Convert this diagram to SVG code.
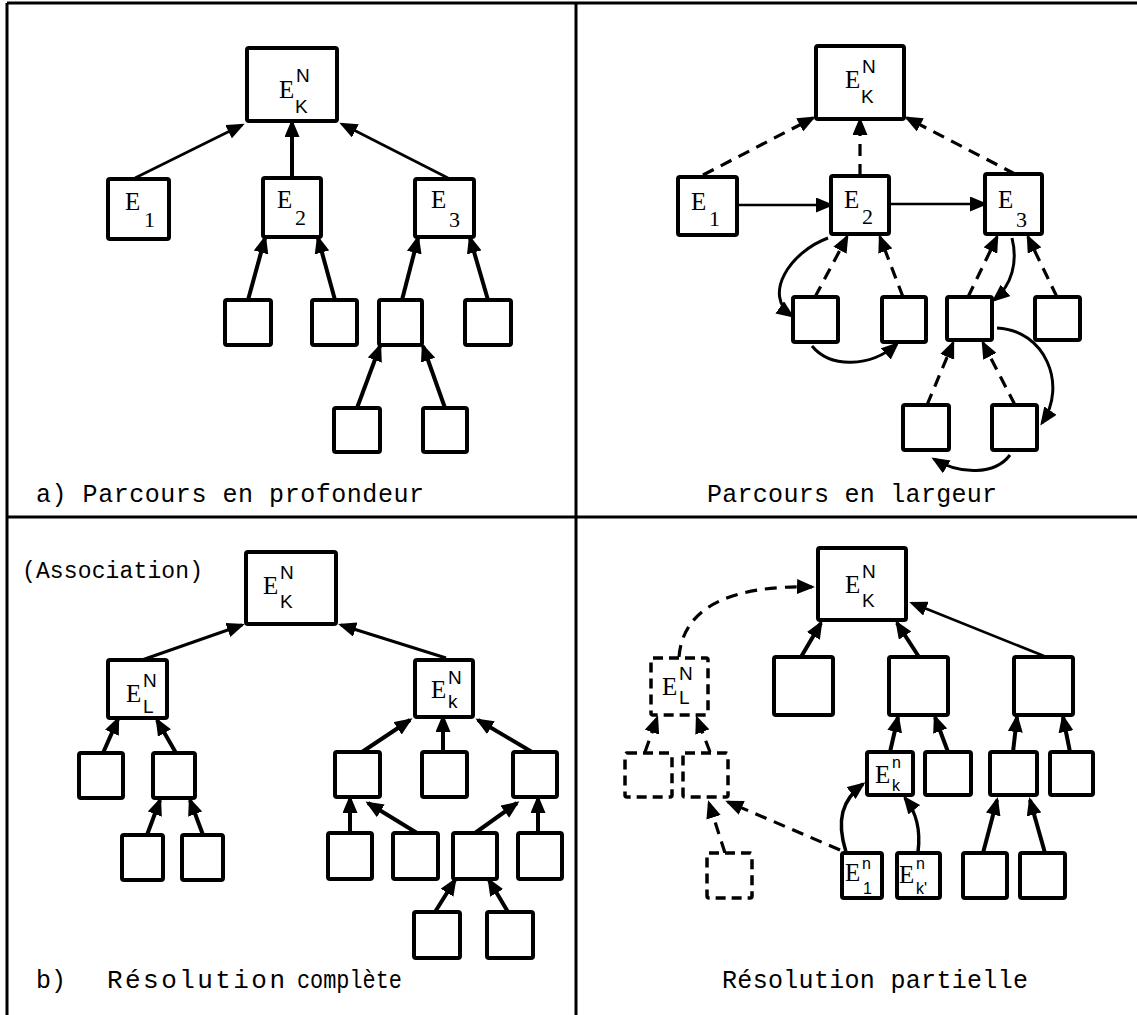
<svg xmlns="http://www.w3.org/2000/svg" width="1137" height="1015" viewBox="0 0 1137 1015">
<style>
.frame{stroke:#000;stroke-width:3;fill:none}
.box{fill:#fff;stroke:#000;stroke-width:4}
.dbox{fill:#fff;stroke:#000;stroke-width:3.5;stroke-dasharray:10 6}
.c{fill:none;stroke:#000;stroke-width:2.6;marker-end:url(#ah)}
.tk{stroke-width:4}
.ds{stroke-width:3.2;stroke-dasharray:12 8}
.lbl{font-family:"Liberation Mono",monospace;font-size:25px;fill:#000}
.e{font-family:"Liberation Serif",serif;font-size:25px;fill:#000}
.s{font-family:"Liberation Sans",sans-serif;font-size:19px;fill:#000}
.t{font-family:"Liberation Sans",sans-serif;font-size:16px;fill:#000}
.n{font-family:"Liberation Serif",serif;font-size:22px;fill:#000}
</style>
<defs>
<marker id="ah" markerUnits="userSpaceOnUse" markerWidth="18" markerHeight="15" refX="15" refY="7.5" orient="auto" viewBox="0 0 18 15"><path d="M0,0 L18,7.5 L0,15 z" fill="#000"/></marker>
</defs>
<rect width="1137" height="1015" fill="#fff"/>
<g id="frame">
<line class="frame" x1="7" y1="3" x2="1137" y2="3"/>
<line class="frame" x1="7" y1="3" x2="7" y2="1015"/>
<line class="frame" x1="576" y1="3" x2="576" y2="1015"/>
<line class="frame" x1="7" y1="517" x2="1137" y2="517"/>
</g>
<g id="captions">
<text class="lbl" x="36" y="502" textLength="388" lengthAdjust="spacing">a) Parcours en profondeur</text>
<text class="lbl" x="707" y="502" textLength="290" lengthAdjust="spacing">Parcours en largeur</text>
<text class="lbl" x="22" y="578" style="font-size:23px" textLength="181" lengthAdjust="spacing">(Association)</text>
<text class="lbl" x="36" y="988">b)</text>
<text class="lbl" x="107" y="988" style="font-size:26px" textLength="178" lengthAdjust="spacing">Résolution</text>
<text class="lbl" x="297" y="988" textLength="105" lengthAdjust="spacingAndGlyphs">complète</text>
<text class="lbl" x="722" y="988" textLength="306" lengthAdjust="spacing">Résolution partielle</text>
</g>

<g id="connectors">
<!-- a) profondeur -->
<path class="c" d="M135,178 L242,125"/>
<path class="c tk" d="M292,178 L292,122"/>
<path class="c" d="M448,178 L342,124"/>
<path class="c tk" d="M248,300 L265,238"/>
<path class="c tk" d="M335,300 L318,238"/>
<path class="c tk" d="M402,300 L418,238"/>
<path class="c tk" d="M488,300 L470,238"/>
<path class="c tk" d="M357,408 L380,346"/>
<path class="c tk" d="M445,408 L423,346"/>
<!-- largeur -->
<path class="c ds" d="M703,175 L813,118"/>
<path class="c ds" d="M860,176 L860,120"/>
<path class="c ds" d="M1015,174 L907,118"/>
<path class="c" d="M737,205 L831,205"/>
<path class="c" d="M889,204 L985,204"/>
<path class="c ds" d="M815,297 L847,237"/>
<path class="c ds" d="M903,297 L880,237"/>
<path class="c ds" d="M968,297 L997,237"/>
<path class="c ds" d="M1057,297 L1028,237"/>
<path class="c ds" d="M927,405 L953,343"/>
<path class="c ds" d="M1015,405 L983,343"/>
<path class="c" style="stroke-width:3" d="M828,238 C790,252 762,295 792,316"/>
<path class="c" style="stroke-width:3" d="M812,346 C830,368 870,368 897,344"/>
<path class="c" style="stroke-width:3" d="M1012,238 C1018,262 1012,285 994,300"/>
<path class="c" style="stroke-width:3" d="M997,328 C1045,330 1068,385 1042,423"/>
<path class="c" style="stroke-width:3" d="M1010,455 C995,475 960,475 934,459"/>
<!-- b) complete -->
<path class="c" style="stroke-width:3" d="M142,660 L242,625"/>
<path class="c" style="stroke-width:3" d="M446,658 L341,625"/>
<path class="c tk" d="M103,753 L118,719"/>
<path class="c tk" d="M176,753 L157,720"/>
<path class="c tk" d="M147,835 L160,800"/>
<path class="c tk" d="M203,835 L190,800"/>
<path class="c tk" d="M362,752 L410,720"/>
<path class="c tk" d="M443,752 L443,717"/>
<path class="c tk" d="M532,752 L478,720"/>
<path class="c tk" d="M350,833 L350,798"/>
<path class="c tk" d="M417,833 L368,803"/>
<path class="c tk" d="M475,833 L517,803"/>
<path class="c tk" d="M538,833 L538,798"/>
<path class="c tk" d="M435,912 L455,880"/>
<path class="c tk" d="M508,912 L489,880"/>
<!-- partielle -->
<path class="c ds" d="M679,657 C683,605 735,585 812,587"/>
<path class="c tk" d="M801,657 L821,623"/>
<path class="c tk" d="M919,657 L897,623"/>
<path class="c" d="M1044,656 L912,603"/>
<path class="c ds" d="M645,752 L657,718"/>
<path class="c ds" d="M710,752 L697,718"/>
<path class="c ds" d="M725,853 L709,803"/>
<path class="c ds" d="M840,850 L728,802"/>
<path class="c tk" d="M890,752 L898,717"/>
<path class="c tk" d="M948,752 L935,717"/>
<path class="c tk" d="M1013,752 L1017,717"/>
<path class="c tk" d="M1070,752 L1063,717"/>
<path class="c" style="stroke-width:3.5" d="M846,852 C836,820 842,800 863,784"/>
<path class="c" style="stroke-width:3.5" d="M918,852 C921,828 916,812 905,798"/>
<path class="c tk" d="M983,853 L997,800"/>
<path class="c tk" d="M1045,853 L1030,800"/>
</g>

<!-- Quadrant a -->
<g id="a-EKN"><rect class="box" x="247" y="48" width="90" height="73" rx="2"/><text class="e" x="279" y="98">E</text><text class="s" x="296" y="82">N</text><text class="s" x="295" y="113">K</text></g>
<g id="a-E1"><rect class="box" x="108" y="179" width="61" height="60" rx="2"/><text class="e" x="125" y="210">E</text><text class="n" x="144" y="227">1</text></g>
<g id="a-E2"><rect class="box" x="263" y="178" width="58" height="59" rx="2"/><text class="e" x="277" y="208">E</text><text class="n" x="295" y="225">2</text></g>
<g id="a-E3"><rect class="box" x="415" y="179" width="59" height="58" rx="2"/><text class="e" x="431" y="208">E</text><text class="n" x="449" y="227">3</text></g>
<g id="a-n1"><rect class="box" x="225" y="300" width="46" height="45" rx="2"/></g>
<g id="a-n2"><rect class="box" x="312" y="300" width="45" height="45" rx="2"/></g>
<g id="a-n3"><rect class="box" x="379" y="300" width="43" height="45" rx="2"/></g>
<g id="a-n4"><rect class="box" x="465" y="300" width="46" height="45" rx="2"/></g>
<g id="a-n5"><rect class="box" x="334" y="408" width="46" height="44" rx="2"/></g>
<g id="a-n6"><rect class="box" x="423" y="408" width="44" height="44" rx="2"/></g>

<!-- Quadrant largeur -->
<g id="l-EKN"><rect class="box" x="816" y="46" width="88" height="73" rx="2"/><text class="e" x="845" y="88">E</text><text class="s" x="862" y="73">N</text><text class="s" x="861" y="103">K</text></g>
<g id="l-E1"><rect class="box" x="678" y="177" width="59" height="58" rx="2"/><text class="e" x="691" y="210">E</text><text class="n" x="709" y="226">1</text></g>
<g id="l-E2"><rect class="box" x="831" y="176" width="58" height="58" rx="2"/><text class="e" x="844" y="208">E</text><text class="n" x="862" y="224">2</text></g>
<g id="l-E3"><rect class="box" x="985" y="174" width="57" height="60" rx="2"/><text class="e" x="998" y="208">E</text><text class="n" x="1016" y="227">3</text></g>
<g id="l-n1"><rect class="box" x="793" y="297" width="45" height="45" rx="2"/></g>
<g id="l-n2"><rect class="box" x="882" y="297" width="44" height="45" rx="2"/></g>
<g id="l-n3"><rect class="box" x="947" y="297" width="45" height="43" rx="2"/></g>
<g id="l-n4"><rect class="box" x="1035" y="297" width="45" height="43" rx="2"/></g>
<g id="l-n5"><rect class="box" x="903" y="405" width="46" height="45" rx="2"/></g>
<g id="l-n6"><rect class="box" x="992" y="405" width="45" height="45" rx="2"/></g>

<!-- Quadrant b -->
<g id="b-EKN"><rect class="box" x="246" y="552" width="90" height="72" rx="2"/><text class="e" x="263" y="594">E</text><text class="s" x="280" y="579">N</text><text class="s" x="280" y="608">K</text></g>
<g id="b-ELN"><rect class="box" x="108" y="660" width="59" height="58" rx="2"/><text class="e" x="126" y="702">E</text><text class="s" x="143" y="687">N</text><text class="s" x="143" y="713">L</text></g>
<g id="b-EkN"><rect class="box" x="415" y="660" width="58" height="57" rx="2"/><text class="e" x="431" y="698">E</text><text class="s" x="448" y="684">N</text><text class="s" x="448" y="708">k</text></g>
<g id="b-n1"><rect class="box" x="79" y="753" width="44" height="45" rx="2"/></g>
<g id="b-n2"><rect class="box" x="153" y="753" width="42" height="45" rx="2"/></g>
<g id="b-n3"><rect class="box" x="122" y="835" width="41" height="45" rx="2"/></g>
<g id="b-n4"><rect class="box" x="182" y="835" width="41" height="45" rx="2"/></g>
<g id="b-n5"><rect class="box" x="335" y="752" width="45" height="45" rx="2"/></g>
<g id="b-n6"><rect class="box" x="422" y="752" width="45" height="45" rx="2"/></g>
<g id="b-n7"><rect class="box" x="513" y="752" width="44" height="45" rx="2"/></g>
<g id="b-n8"><rect class="box" x="328" y="833" width="44" height="46" rx="2"/></g>
<g id="b-n9"><rect class="box" x="393" y="833" width="45" height="46" rx="2"/></g>
<g id="b-n10"><rect class="box" x="453" y="833" width="44" height="46" rx="2"/></g>
<g id="b-n11"><rect class="box" x="518" y="833" width="44" height="46" rx="2"/></g>
<g id="b-n12"><rect class="box" x="414" y="912" width="46" height="46" rx="2"/></g>
<g id="b-n13"><rect class="box" x="487" y="912" width="46" height="46" rx="2"/></g>

<!-- Quadrant partielle -->
<g id="p-EKN"><rect class="box" x="818" y="548" width="88" height="72" rx="2"/><text class="e" x="845" y="593">E</text><text class="s" x="862" y="578">N</text><text class="s" x="862" y="607">K</text></g>
<g id="p-ELN"><rect class="dbox" x="651" y="658" width="57" height="57" rx="2"/><text class="e" x="662" y="695">E</text><text class="s" x="679" y="680">N</text><text class="s" x="679" y="704">L</text></g>
<g id="p-n1"><rect class="box" x="774" y="657" width="59" height="58" rx="2"/></g>
<g id="p-n2"><rect class="box" x="889" y="657" width="59" height="58" rx="2"/></g>
<g id="p-n3"><rect class="box" x="1014" y="657" width="59" height="58" rx="2"/></g>
<g id="p-d1"><rect class="dbox" x="625" y="753" width="47" height="44" rx="2"/></g>
<g id="p-d2"><rect class="dbox" x="683" y="753" width="45" height="44" rx="2"/></g>
<g id="p-d3"><rect class="dbox" x="707" y="853" width="45" height="45" rx="2"/></g>
<g id="p-Ekn"><rect class="box" x="867" y="752" width="46" height="43" rx="2"/><text class="e" x="875" y="783">E</text><text class="t" x="892" y="768">n</text><text class="t" x="892" y="791">k</text></g>
<g id="p-n4"><rect class="box" x="925" y="752" width="46" height="43" rx="2"/></g>
<g id="p-n5"><rect class="box" x="990" y="752" width="47" height="43" rx="2"/></g>
<g id="p-n6"><rect class="box" x="1050" y="752" width="43" height="43" rx="2"/></g>
<g id="p-E1n"><rect class="box" x="842" y="853" width="40" height="45" rx="2"/><text class="e" x="845" y="881">E</text><text class="t" x="862" y="869">n</text><text class="t" x="863" y="894">1</text></g>
<g id="p-Ekpn"><rect class="box" x="897" y="853" width="43" height="45" rx="2"/><text class="e" x="899" y="883">E</text><text class="t" x="916" y="869">n</text><text class="t" x="916" y="894">k'</text></g>
<g id="p-n7"><rect class="box" x="963" y="853" width="44" height="45" rx="2"/></g>
<g id="p-n8"><rect class="box" x="1020" y="853" width="45" height="45" rx="2"/></g>
</svg>
